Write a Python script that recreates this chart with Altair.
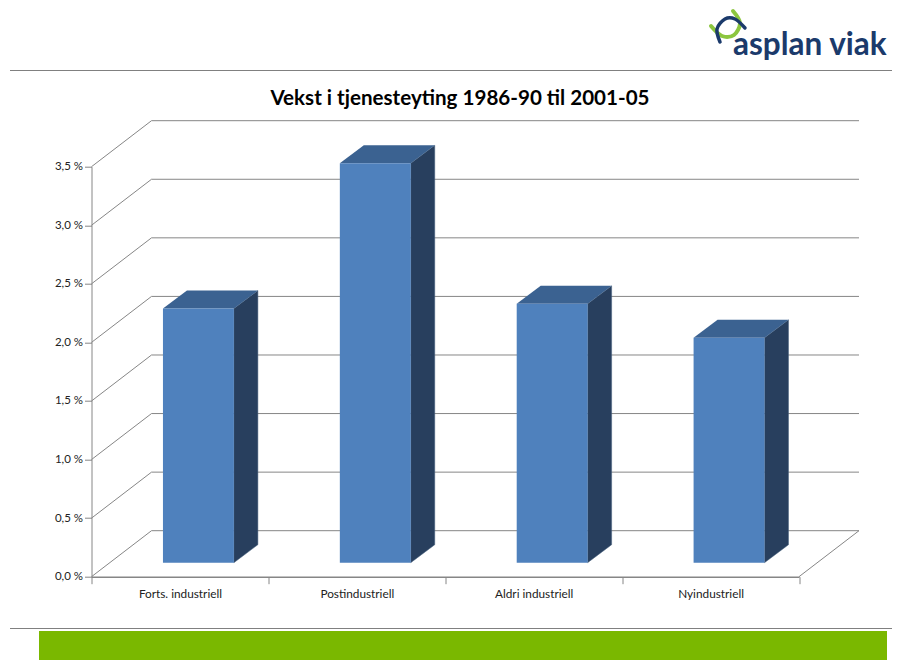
import altair as alt
import pandas as pd

categories = ["Forts. industriell", "Postindustriell", "Aldri industriell", "Nyindustriell"]
values = [2.17, 3.41, 2.21, 1.92]
ticks = [0, 0.5, 1.0, 1.5, 2.0, 2.5, 3.0, 3.5]
title = "Vekst i tjenesteyting 1986-90 til 2001-05"
logo_text = "asplan viak"
logo_navy_x = [720, 717, 725, 735, 745]
logo_navy_y = [42, 29, 19, 19, 28]
logo_green_x = [711, 722, 734, 740, 733]
logo_green_y = [26, 36, 35, 23, 11]

# geometry of the pseudo-3D chart, in data units
W, H = 707.5, 410
PAD_L, PAD_T = 83.5, 158.7
DEPTH_X = 60 / (W / 4)      # depth of the floor, in category units
DEPTH_Y = 46 / (H / 3.5)    # depth of the floor, in percent
BAR_OFFSET = 0.404
BAR_W = 0.401
BAR_LIFT = 0.12
BAR_DX = 0.4 * DEPTH_X
BAR_DY = 0.39 * DEPTH_Y

GRID = "#868686"
FONT = "Lato"
XQ = alt.Scale(domain=[0, 4], nice=False, zero=False)
YQ = alt.Scale(domain=[0, 3.5], nice=False, zero=False)

grid_rows = []
for t in ticks:
    grid_rows.append(dict(s=f"g{t}", o=0, x=0, y=t))
    grid_rows.append(dict(s=f"g{t}", o=1, x=DEPTH_X, y=t + DEPTH_Y))
    grid_rows.append(dict(s=f"g{t}", o=2, x=4 + DEPTH_X, y=t + DEPTH_Y))
grid_rows.append(dict(s="floor", o=0, x=4, y=0))
grid_rows.append(dict(s="floor", o=1, x=4 + DEPTH_X, y=DEPTH_Y))
grid = pd.DataFrame(grid_rows)

front, side, top = [], [], []
for i, (c, v) in enumerate(zip(categories, values)):
    x0 = i + BAR_OFFSET
    x1 = x0 + BAR_W
    bot, tp = BAR_LIFT, v + BAR_LIFT
    front.append(dict(c=c, x=x0, x2=x1, y=bot, y2=tp))
    side.append(dict(c=c, x=x1, y=tp, y2=bot))
    side.append(dict(c=c, x=x1 + BAR_DX, y=tp + BAR_DY, y2=bot + BAR_DY))
    top.append(dict(c=c, x=x0, x2=x1, y=tp))
    top.append(dict(c=c, x=x0 + BAR_DX, x2=x1 + BAR_DX, y=tp + BAR_DY))
front, side, top = pd.DataFrame(front), pd.DataFrame(side), pd.DataFrame(top)

X = lambda f="x": alt.X(f"{f}:Q", scale=XQ, axis=None)
Y = lambda f="y": alt.Y(f"{f}:Q", scale=YQ, axis=None)

axes = alt.Chart(pd.DataFrame(dict(c=categories, v=[0, 0, 0, 0]))).mark_point(opacity=0).encode(
    x=alt.X("c:N", sort=categories, title=None,
            scale=alt.Scale(paddingInner=0, paddingOuter=0),
            axis=alt.Axis(labelAngle=0, tickBand="extent", tickSize=7, labelPadding=5,
                          labelFontSize=11.8, labelFont=FONT, labelColor="#222222",
                          domainColor=GRID, tickColor=GRID, domainWidth=1.5, grid=False)),
    y=alt.Y("v:Q", scale=YQ, title=None,
            axis=alt.Axis(values=ticks, tickSize=7, labelPadding=2, labelFontSize=11.5, labelFont=FONT,
                          labelColor="#222222", domainColor=GRID, tickColor=GRID, grid=False,
                          labelExpr="replace(format(datum.value,'.1f'),'.',',')+' %'")),
)

lines = alt.Chart(grid).mark_line(color=GRID, strokeWidth=1).encode(
    x=X(), y=Y(), detail="s:N", order="o:Q")

front_l = alt.Chart(front).mark_rect(color="#4F81BD").encode(x=X(), x2="x2:Q", y=Y(), y2="y2:Q")
side_l = alt.Chart(side).mark_area(color="#283F5E", stroke="#4A6480", strokeWidth=0.5).encode(
    x=X(), y=Y(), y2="y2:Q", detail="c:N")
top_l = alt.Chart(top).mark_area(orient="horizontal", color="#3B6291").encode(
    x=X(), x2="x2:Q", y=Y(), detail="c:N")

# page furniture, placed in pixels relative to the plot group
px = lambda v: alt.value(v - 8 - PAD_L)
py = lambda v: alt.value(v - 8 - PAD_T)
seed = pd.DataFrame({"a": [0]})
rule1 = alt.Chart(seed).mark_rule(color="#808080", strokeWidth=1).encode(x=px(10), x2=px(900), y=py(70.5))
rule2 = alt.Chart(seed).mark_rule(color="#808080", strokeWidth=1).encode(x=px(10), x2=px(900), y=py(628.5))
green = alt.Chart(seed).mark_rect(color="#7AB800").encode(x=px(39), x2=px(887), y=py(631), y2=py(660))

def logo_frame(xs, ys):
    return pd.DataFrame(dict(x=[v - 8 - PAD_L for v in xs], y=[v - 8 - PAD_T for v in ys], o=range(len(xs))))

green_arc = alt.Chart(logo_frame(logo_green_x, logo_green_y)).mark_line(
    color="#8CC63F", strokeWidth=4, interpolate="cardinal", strokeCap="round").encode(
    x=alt.X("x:Q", scale=None, axis=None), y=alt.Y("y:Q", scale=None, axis=None), order="o:Q")
navy_arc = alt.Chart(logo_frame(logo_navy_x, logo_navy_y)).mark_line(
    color="#1B3A6B", strokeWidth=3.5, interpolate="cardinal", strokeCap="round").encode(
    x=alt.X("x:Q", scale=None, axis=None), y=alt.Y("y:Q", scale=None, axis=None), order="o:Q")
logo = alt.Chart(pd.DataFrame({"t": [logo_text]})).mark_text(
    font=FONT, fontSize=31.5, fontWeight="bold", color="#1B3A6B", align="left", baseline="alphabetic"
).encode(x=px(733), y=py(55), text="t:N")
title_l = alt.Chart(pd.DataFrame({"t": [title]})).mark_text(
    font=FONT, fontSize=20.6, fontWeight="bold", color="#000000", align="center", baseline="middle"
).encode(x=px(460), y=py(98.5), text="t:N")

chart = alt.layer(axes, lines, side_l, top_l, front_l, rule1, rule2, green, green_arc, navy_arc, logo, title_l).resolve_scale(
    x="independent", y="independent"
).properties(
    width=W, height=H,
    padding={"left": PAD_L, "top": PAD_T, "right": 884 - PAD_L - W, "bottom": 652 - PAD_T - H},
    autosize=alt.AutoSizeParams(type="none"),
).configure_view(stroke=None)

chart.save("out.html", embed_options={"renderer": "svg", "actions": False})
